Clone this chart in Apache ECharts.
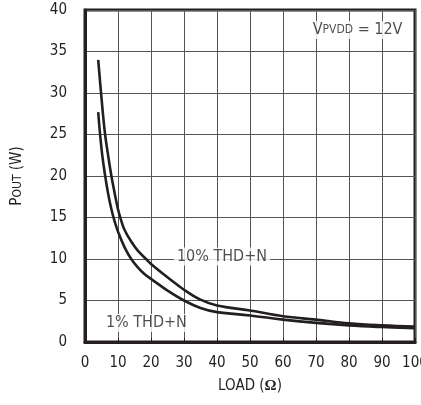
<!DOCTYPE html>
<html>
<head>
<meta charset="utf-8">
<script src="https://cdn.jsdelivr.net/npm/echarts@6/dist/echarts.min.js"></script>
<style>html,body{margin:0;padding:0;background:#fff}#c{width:421px;height:405px}</style>
</head>
<body>
<div id="c"></div>
<script>
// Load (ohms) and output power (W)
const load10 = [4, 5, 6, 7, 8, 9, 10, 11, 12, 14, 16, 18.5, 20, 25, 30, 35, 40, 50, 60, 70, 80, 90, 100];
const pout10 = [34, 29.4, 25.3, 22.5, 20.0, 17.9, 16.0, 14.6, 13.5, 12.1, 11.0, 10.0, 9.4, 7.8, 6.3, 5.1, 4.4, 3.8, 3.1, 2.7, 2.25, 2.0, 1.85];
const load1 = [4, 5, 6, 7, 8, 9, 10, 12, 14, 16, 18, 20, 25, 30, 35, 40, 50, 60, 70, 80, 90, 100];
const pout1 = [27.7, 23.3, 20.3, 17.9, 16.0, 14.5, 13.3, 11.4, 10.0, 9.0, 8.2, 7.6, 6.2, 5.0, 4.1, 3.6, 3.2, 2.7, 2.3, 2.0, 1.8, 1.65];
const xTicks = [0, 10, 20, 30, 40, 50, 60, 70, 80, 90, 100];
const yTicks = [0, 5, 10, 15, 20, 25, 30, 35, 40];
const notes = [
  [41.5, 10.3, '10% THD+N'],
  [18.6, 2.3, '1% THD+N'],
  [82.6, 37.6, '{v|V}{s|PVDD}{v| = 12V}']
];

const FONT = '"DejaVu Sans Condensed", "Liberation Sans Narrow", "Liberation Sans", sans-serif';
const INK = '#231f20';
const pair = (xs, ys) => xs.map((x, i) => [x, ys[i]]);

const chart = echarts.init(document.getElementById('c'), null, {renderer: 'canvas'});
chart.setOption({
  animation: false,
  backgroundColor: '#fff',
  textStyle: {fontFamily: FONT},
  grid: {left: 85, right: 6, top: 10, bottom: 63, containLabel: false, outerBoundsMode: 'none',
         show: true, borderColor: INK, borderWidth: 3, backgroundColor: 'transparent'},
  xAxis: {
    type: 'value', min: xTicks[0], max: xTicks[xTicks.length - 1], interval: 10,
    name: '{t|LOAD (}{o|Ω}{t|)}', nameLocation: 'middle', nameGap: 37,
    nameTextStyle: {rich: {t: {fontFamily: FONT, fontSize: 15, color: INK}, o: {fontFamily: '"Liberation Serif", serif', fontWeight: 'bold', fontSize: 15, color: INK}}},
    axisLine: {show: true, lineStyle: {color: INK, width: 3}},
    axisTick: {show: true, inside: true, length: 4, lineStyle: {color: INK, width: 1}},
    axisLabel: {fontFamily: FONT, fontSize: 15, color: INK, margin: 14},
    splitLine: {show: true, lineStyle: {color: '#555', width: 1}}
  },
  yAxis: {
    type: 'value', min: yTicks[0], max: yTicks[yTicks.length - 1], interval: 5,
    name: '{t|P}{s|OUT}{t| (W)}', nameLocation: 'middle', nameGap: 60, nameRotate: 90,
    nameTextStyle: {rich: {t: {fontFamily: FONT, fontSize: 15, color: INK}, s: {fontFamily: FONT, fontSize: 12, color: INK}}},
    axisLine: {show: true, lineStyle: {color: INK, width: 3}},
    axisTick: {show: false},
    axisLabel: {fontFamily: FONT, fontSize: 15, color: INK, margin: 18},
    splitLine: {show: true, lineStyle: {color: '#555', width: 1}}
  },
  series: [
    {name: '10% THD+N', type: 'line', data: pair(load10, pout10), smooth: 0.4, showSymbol: false, symbol: 'none',
     lineStyle: {color: INK, width: 2.6}, z: 3},
    {name: '1% THD+N', type: 'line', data: pair(load1, pout1), smooth: 0.4, showSymbol: false, symbol: 'none',
     lineStyle: {color: INK, width: 2.6}, z: 3},
    {type: 'scatter', data: notes, symbolSize: 0, z: 5, silent: true,
     label: {show: true, position: 'inside', formatter: p => p.value[2], color: INK,
       fontFamily: FONT, fontSize: 16, backgroundColor: '#fff', padding: [1, 3],
       rich: {v: {fontFamily: FONT, fontSize: 16, color: INK}, s: {fontFamily: FONT, fontSize: 12, color: INK}}}}
  ]
});
</script>
</body>
</html>
